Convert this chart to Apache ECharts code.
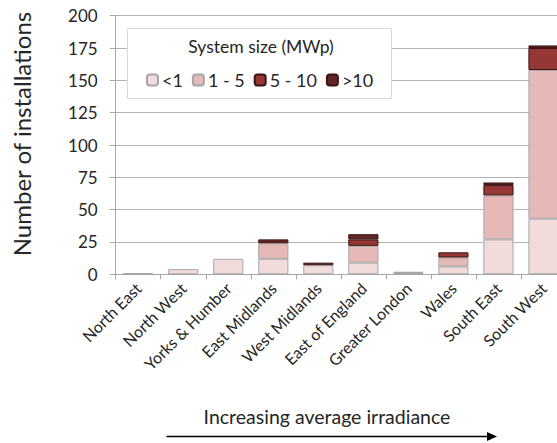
<!DOCTYPE html>
<html>
<head>
<meta charset="utf-8">
<script src="https://cdn.jsdelivr.net/npm/echarts@6/dist/echarts.min.js"></script>
<style>
html,body{margin:0;padding:0;background:#fff;overflow:hidden;width:557px;height:443px;}
#c{width:566px;height:443px;}
</style>
</head>
<body>
<div id="c"></div>
<script>
var categories = ['North East','North West','Yorks & Humber','East Midlands','West Midlands','East of England','Greater London','Wales','South East','South West'];
var seriesNames = ['<1','1 - 5','5 - 10','>10'];
var under1 = [1, 4, 12, 12, 7, 9, 1, 6, 27, 43];
var from1to5 = [0, 0, 0, 12, 0, 13, 1, 7, 34, 115];
var from5to10 = [0, 0, 0, 0, 0, 5, 0, 4, 8, 17];
var over10 = [0, 0, 0, 3, 2, 4, 0, 0, 2, 2];
var yTicks = [0, 25, 50, 75, 100, 125, 150, 175, 200];

var FONT = 'Lato';
var fills = ['#F2DCDB', '#E6B9B8', '#953735', '#632523'];
var borders = ['#a6a6a6', '#a6a6a6', '#3b1514', '#3b1514'];
var values = [under1, from1to5, from5to10, over10];

function clean(arr){ return arr.map(function(v){ return v === 0 ? '-' : v; }); }

var chart = echarts.init(document.getElementById('c'), null, {renderer:'svg'});
var series = values.map(function(arr, i){
  return {
    name: seriesNames[i],
    type: 'bar',
    stack: 'total',
    barCategoryGap: '33%',
    data: clean(arr),
    itemStyle: {color: fills[i], borderColor: borders[i], borderWidth: 1},
    emphasis: {disabled: true},
    z: 3
  };
});

chart.setOption({
  animation: false,
  textStyle: {fontFamily: FONT},
  grid: {left: 115.7, right: 0, top: 15.7, bottom: 168.7, containLabel: false},
  xAxis: {
    type: 'category',
    data: categories,
    axisLine: {lineStyle: {color: '#a6a6a6', width: 1}},
    axisTick: {show: true, length: 5, lineStyle: {color: '#a6a6a6'}},
    axisLabel: {rotate: 45, margin: 11, fontSize: 16, color: '#262626', fontFamily: FONT, interval: 0}
  },
  yAxis: {
    type: 'value',
    min: yTicks[0],
    max: yTicks[yTicks.length - 1],
    interval: yTicks[1] - yTicks[0],
    name: 'Number of installations',
    nameLocation: 'middle',
    nameRotate: 90,
    nameGap: 82,
    nameTextStyle: {fontSize: 24, color: '#262626', fontFamily: FONT, padding: [0, 0, 0, 22]},
    axisLine: {show: true, lineStyle: {color: '#a6a6a6', width: 1}},
    axisTick: {show: true, length: 6, lineStyle: {color: '#a6a6a6'}},
    axisLabel: {margin: 18, fontSize: 17, color: '#262626', fontFamily: FONT},
    splitLine: {show: true, lineStyle: {color: '#b3b3b3', width: 1}}
  },
  legend: {
    data: seriesNames,
    left: 146,
    top: 71,
    itemWidth: 11,
    itemHeight: 11,
    itemGap: 9,
    padding: 0,
    z: 20,
    textStyle: {fontSize: 18, color: '#262626', fontFamily: FONT, padding: [0, 0, 0, -1]},
    selectedMode: false
  },
  graphic: [
    {type: 'rect', z: 10, shape: {x: 127.5, y: 28.5, width: 264, height: 70},
     style: {fill: '#ffffff', stroke: '#d9d9d9', lineWidth: 1}},
    {type: 'text', z: 11, x: 261, y: 46, style: {text: 'System size (MWp)', font: '17.5px Lato', fill: '#262626', textAlign: 'center', textVerticalAlign: 'middle'}},
    {type: 'text', z: 11, x: 327, y: 416, style: {text: 'Increasing average irradiance', font: '19.5px Lato', fill: '#262626', textAlign: 'center', textVerticalAlign: 'middle'}},
    {type: 'line', z: 11, shape: {x1: 166.5, y1: 436.5, x2: 488, y2: 436.5}, style: {stroke: '#000', lineWidth: 1.5}},
    {type: 'polygon', z: 11, shape: {points: [[487, 432], [497, 436.5], [487, 441]]}, style: {fill: '#000'}}
  ],
  series: series
});
</script>
</body>
</html>
